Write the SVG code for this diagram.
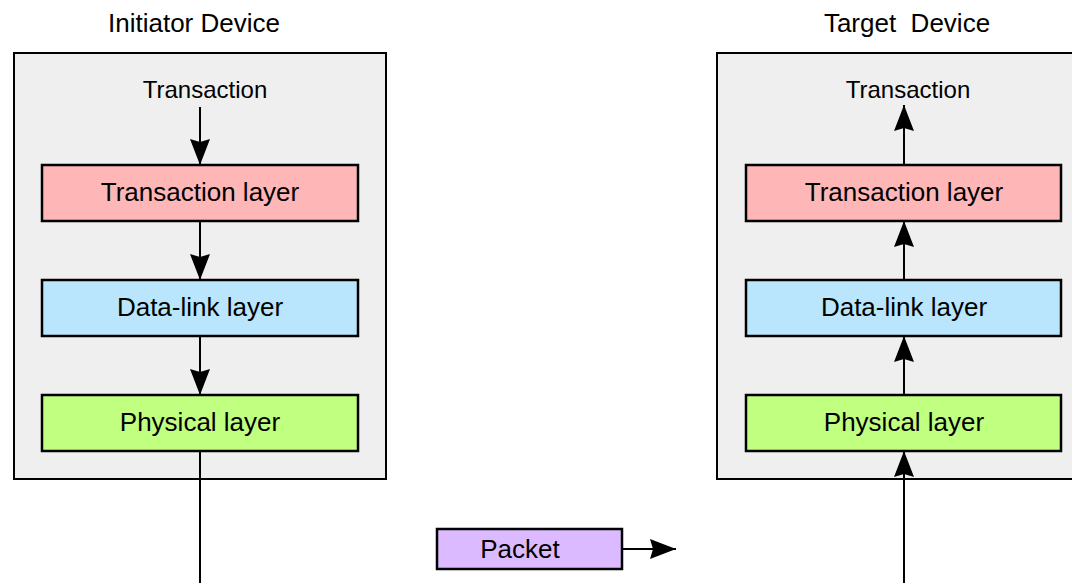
<svg xmlns="http://www.w3.org/2000/svg" width="1072" height="583" viewBox="0 0 1072 583">
  <style>
    text { font-family: "Liberation Sans", Arial, sans-serif; fill: #000; text-anchor: middle; white-space: pre; }
    .title { font-size: 26px; }
    .label { font-size: 24px; }
    .layer-text { font-size: 26px; }
    .device { fill: #efefef; stroke: #000; stroke-width: 2; }
    .layer { stroke: #000; stroke-width: 2.5; }
    .trans { fill: #ffb6b6; }
    .link { fill: #b9e6fd; }
    .phys { fill: #c0ff80; }
    .packet { fill: #dcbaff; }
    .wire { fill: none; stroke: #000; stroke-width: 2; }
  </style>
  <defs>
    <marker id="arrow" viewBox="0 0 26 20" refX="26" refY="10" markerWidth="26" markerHeight="20" markerUnits="userSpaceOnUse" orient="auto">
      <path d="M0,0 L26,10 L0,20 L3,10 Z" fill="#000"/>
    </marker>
  </defs>

  <rect width="1072" height="583" fill="#fff"/>

  <!-- Initiator side -->
  <g id="initiator-device">
    <rect class="device" x="14" y="53" width="372" height="426"/>
    <text class="title" x="194" y="32">Initiator Device</text>
    <text class="label" x="205" y="98">Transaction</text>
  </g>
  <g id="initiator-transaction-layer">
    <rect class="layer trans" x="42" y="165" width="316" height="56"/>
    <text class="layer-text" x="200" y="201">Transaction layer</text>
  </g>
  <g id="initiator-data-link-layer">
    <rect class="layer link" x="42" y="280" width="316" height="56"/>
    <text class="layer-text" x="200" y="316">Data-link layer</text>
  </g>
  <g id="initiator-physical-layer">
    <rect class="layer phys" x="42" y="395" width="316" height="56"/>
    <text class="layer-text" x="200" y="431">Physical layer</text>
  </g>

  <!-- Target side -->
  <g id="target-device">
    <rect class="device" x="717" y="53" width="372" height="426"/>
    <text class="title" x="907" y="32" xml:space="preserve">Target  Device</text>
    <text class="label" x="908" y="98">Transaction</text>
  </g>
  <g id="target-transaction-layer">
    <rect class="layer trans" x="746" y="165" width="315" height="56"/>
    <text class="layer-text" x="904" y="201">Transaction layer</text>
  </g>
  <g id="target-data-link-layer">
    <rect class="layer link" x="746" y="280" width="315" height="56"/>
    <text class="layer-text" x="904" y="316">Data-link layer</text>
  </g>
  <g id="target-physical-layer">
    <rect class="layer phys" x="746" y="395" width="315" height="56"/>
    <text class="layer-text" x="904" y="431">Physical layer</text>
  </g>

  <!-- Packet in transit -->
  <g id="packet">
    <rect class="layer packet" x="437" y="529" width="185" height="40"/>
    <text class="layer-text" x="520" y="558">Packet</text>
  </g>

  <!-- Connectors -->
  <g id="connectors">
    <line class="wire" x1="200" y1="107" x2="200" y2="165" marker-end="url(#arrow)"/>
    <line class="wire" x1="200" y1="221" x2="200" y2="280" marker-end="url(#arrow)"/>
    <line class="wire" x1="200" y1="336" x2="200" y2="395" marker-end="url(#arrow)"/>
    <line class="wire" x1="200" y1="451" x2="200" y2="585"/>

    <line class="wire" x1="904" y1="165" x2="904" y2="105" marker-end="url(#arrow)"/>
    <line class="wire" x1="904" y1="280" x2="904" y2="221" marker-end="url(#arrow)"/>
    <line class="wire" x1="904" y1="395" x2="904" y2="336" marker-end="url(#arrow)"/>
    <line class="wire" x1="904" y1="585" x2="904" y2="451" marker-end="url(#arrow)"/>

    <line class="wire" x1="622" y1="549" x2="676" y2="549" marker-end="url(#arrow)"/>
  </g>
</svg>
